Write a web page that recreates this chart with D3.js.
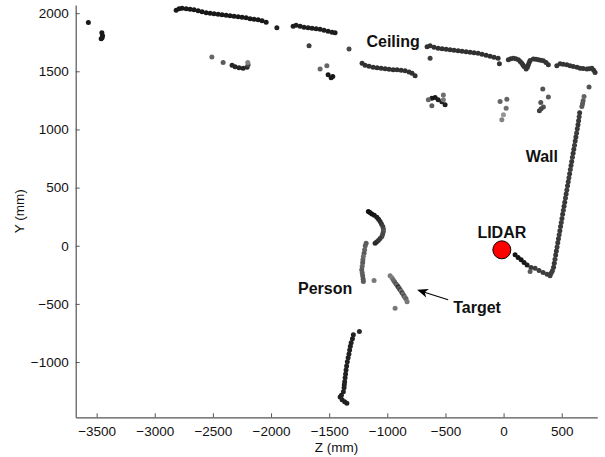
<!DOCTYPE html>
<html>
<head>
<meta charset="utf-8">
<script src="https://cdn.jsdelivr.net/npm/d3@7"></script>
<style>
  body { margin: 0; background: #fff; }
  svg { display: block; font-family: "Liberation Sans", Arial, sans-serif; }
</style>
</head>
<body>
<div id="chart"></div>
<script>
// punts del LIDAR: [Z (mm), Y (mm), intensitat 0..1]
const ceilingTop = [
  [-2816, 2024, 0.05], [-2791, 2037, 0.05], [-2765, 2042, 0.05], [-2730, 2037, 0.05],
  [-2696, 2033, 0.05], [-2662, 2029, 0.05], [-2627, 2020, 0.05], [-2593, 2011, 0.05],
  [-2558, 2003, 0.05], [-2524, 1999, 0.05], [-2490, 1994, 0.05], [-2455, 1990, 0.05],
  [-2421, 1986, 0.05], [-2386, 1981, 0.05], [-2352, 1977, 0.05], [-2318, 1973, 0.05],
  [-2283, 1969, 0.05], [-2249, 1964, 0.05], [-2214, 1960, 0.05], [-2180, 1951, 0.05],
  [-2146, 1947, 0.05], [-2111, 1943, 0.05], [-2077, 1934, 0.05], [-2042, 1921, 0.05],
  [-1950, 1874, 0.1],
  [-1810, 1887, 0.08], [-1784, 1895, 0.08], [-1750, 1887, 0.08], [-1716, 1878, 0.08],
  [-1681, 1874, 0.08], [-1647, 1870, 0.08], [-1612, 1865, 0.08], [-1578, 1861, 0.08],
  [-1544, 1852, 0.08], [-1509, 1844, 0.08], [-1475, 1835, 0.08], [-1449, 1831, 0.08]
];

const ceilingRight = [
  [-658, 1710, 0.18], [-632, 1719, 0.18], [-598, 1706, 0.18], [-563, 1698, 0.18],
  [-529, 1693, 0.18], [-494, 1689, 0.18], [-460, 1685, 0.18], [-426, 1680, 0.18],
  [-391, 1676, 0.18], [-357, 1672, 0.18], [-322, 1667, 0.18], [-288, 1663, 0.18],
  [-254, 1659, 0.18], [-219, 1655, 0.18], [-185, 1646, 0.18], [-150, 1637, 0.18],
  [-116, 1629, 0.18], [-82, 1620, 0.18], [-47, 1612, 0.18],
  [41, 1599, 0.2], [62, 1608, 0.2], [84, 1613, 0.2], [105, 1608, 0.2], [127, 1599, 0.2],
  [143, 1585, 0.2], [157, 1570, 0.2], [167, 1555, 0.2], [176, 1541, 0.2], [194, 1519, 0.2],
  [205, 1535, 0.2], [213, 1556, 0.2], [220, 1575, 0.2], [228, 1593, 0.2], [256, 1605, 0.2],
  [278, 1603, 0.2], [299, 1599, 0.2], [320, 1595, 0.2], [342, 1590, 0.2], [365, 1575, 0.2],
  [385, 1556, 0.2],
  [458, 1547, 0.2], [486, 1564, 0.2], [512, 1560, 0.2], [544, 1556, 0.2], [572, 1547, 0.2],
  [600, 1541, 0.2], [632, 1534, 0.2], [658, 1527, 0.2], [684, 1523, 0.2], [716, 1519, 0.2],
  [735, 1521, 0.2], [759, 1527, 0.2], [775, 1510, 0.2], [787, 1489, 0.2]
];

const ceilingLow = [
  [-1217, 1569, 0.18], [-1191, 1551, 0.18], [-1157, 1543, 0.18], [-1122, 1534, 0.18],
  [-1088, 1530, 0.18], [-1053, 1526, 0.18], [-1019, 1521, 0.18], [-985, 1517, 0.18],
  [-950, 1513, 0.18], [-916, 1513, 0.18], [-881, 1508, 0.18], [-847, 1504, 0.18],
  [-813, 1495, 0.18], [-787, 1483, 0.18], [-761, 1461, 0.18],
  [-2335, 1551, 0.12], [-2309, 1538, 0.12], [-2275, 1530, 0.12], [-2240, 1526, 0.12],
  [-2206, 1534, 0.15], [-2197, 1556, 0.3], [-2200, 1575, 0.6]
];

const wall = [
  [654, 1143, 0.22], [650, 1110, 0.25], [645, 1075, 0.22], [640, 1040, 0.2], [634, 1005, 0.22],
  [628, 970, 0.25], [622, 935, 0.22], [616, 900, 0.22], [610, 865, 0.25], [604, 830, 0.22],
  [598, 795, 0.22], [592, 760, 0.25], [586, 725, 0.22], [580, 690, 0.22], [574, 655, 0.25],
  [568, 620, 0.22], [562, 585, 0.25], [556, 550, 0.22], [550, 515, 0.22], [544, 480, 0.25],
  [538, 445, 0.22], [532, 410, 0.25], [526, 375, 0.22], [520, 340, 0.22], [514, 305, 0.25],
  [508, 270, 0.22], [502, 235, 0.22], [496, 200, 0.25], [490, 165, 0.22], [484, 130, 0.22],
  [478, 95, 0.25], [472, 60, 0.22], [466, 25, 0.22], [460, -10, 0.25], [454, -45, 0.22],
  [448, -80, 0.22], [442, -115, 0.25], [436, -150, 0.22], [430, -185, 0.22], [420, -215, 0.25],
  [410, -235, 0.25], [400, -259, 0.25],
  [692, 1283, 0.45], [684, 1246, 0.4], [679, 1220, 0.4], [673, 1197, 0.4], [735, 1364, 0.35]
];

const lidarTrail = [
  [99, -78, 0.03], [125, -100, 0.03], [151, -121, 0.03], [176, -143, 0.05], [202, -165, 0.08],
  [236, -186, 0.22], [271, -194, 0.25], [305, -212, 0.25], [340, -229, 0.25], [374, -246, 0.25],
  [228, -222, 0.4]
];

const person = [
  [-1163, 294, 0.02], [-1150, 285, 0.02], [-1133, 274, 0.03], [-1112, 262, 0.05],
  [-1090, 246, 0.08], [-1075, 228, 0.1], [-1062, 208, 0.15], [-1050, 188, 0.2],
  [-1039, 165, 0.25], [-1034, 143, 0.3], [-1034, 122, 0.35], [-1040, 100, 0.3],
  [-1047, 79, 0.3], [-1062, 62, 0.25], [-1077, 45, 0.2], [-1092, 33, 0.2], [-1105, 22, 0.15],
  [-1182, 22, 0.4], [-1190, 0, 0.42], [-1195, -35, 0.45], [-1200, -64, 0.4], [-1206, -93, 0.5],
  [-1210, -120, 0.45], [-1212, -147, 0.4], [-1216, -177, 0.45], [-1220, -207, 0.4],
  [-1216, -233, 0.42], [-1212, -259, 0.4], [-1208, -285, 0.38], [-1206, -308, 0.4],
  [-1114, -299, 0.55],
  [-1240, -738, 0.15], [-1292, -766, 0.1], [-1300, -800, 0.1], [-1311, -835, 0.1],
  [-1318, -865, 0.1], [-1324, -896, 0.1], [-1330, -930, 0.1], [-1337, -964, 0.1],
  [-1344, -998, 0.1], [-1350, -1033, 0.1], [-1355, -1068, 0.1], [-1359, -1102, 0.1],
  [-1363, -1136, 0.1], [-1367, -1170, 0.1], [-1370, -1196, 0.1], [-1372, -1222, 0.1],
  [-1378, -1256, 0.1], [-1395, -1285, 0.1], [-1406, -1300, 0.1], [-1389, -1325, 0.1],
  [-1367, -1342, 0.1], [-1348, -1354, 0.1]
];

const target = [
  [-976, -259, 0.55], [-960, -275, 0.6], [-950, -293, 0.5], [-938, -310, 0.45],
  [-925, -328, 0.35], [-915, -340, 0.5], [-907, -353, 0.2], [-898, -366, 0.4],
  [-890, -379, 0.3], [-880, -392, 0.55], [-873, -405, 0.3], [-864, -418, 0.5],
  [-856, -431, 0.35], [-848, -444, 0.55], [-839, -456, 0.45], [-830, -482, 0.55],
  [-933, -537, 0.55]
];

const strays = [
  [-3571, 1920, 0.05], [-3455, 1831, 0.05], [-3449, 1805, 0.05], [-3461, 1779, 0.05], [-3453, 1788, 0.05],
  [-1673, 1719, 0.25], [-1329, 1691, 0.3], [-2509, 1622, 0.45], [-2412, 1575, 0.4],
  [-1578, 1519, 0.45], [-1520, 1547, 0.45], [-1509, 1470, 0.05], [-1469, 1455, 0.05], [-1483, 1444, 0.05],
  [-632, 1613, 0.25], [-36, 1564, 0.2],
  [-617, 1269, 0.05], [-589, 1274, 0.05], [-563, 1255, 0.08], [-531, 1238, 0.1], [-503, 1212, 0.1],
  [-647, 1255, 0.45], [-617, 1203, 0.4], [-518, 1297, 0.5], [-518, 1255, 0.55],
  [-30, 1240, 0.45], [28, 1260, 0.45], [22, 1183, 0.5], [-1, 1126, 0.7], [-15, 1083, 0.6],
  [337, 1347, 0.35], [385, 1278, 0.4], [320, 1232, 0.35], [342, 1192, 0.35], [308, 1160, 0.25], [323, 1177, 0.3]
];

const lidar = [-15, -35];

const xTicks = [-3500, -3000, -2500, -2000, -1500, -1000, -500, 0, 500];
const yTicks = [-1000, -500, 0, 500, 1000, 1500, 2000];

// mides
const W = 605, H = 457;
const plot = { left: 75.7, right: 597.3, top: 5, bottom: 417.3 };

const svg = d3.select("#chart")
  .append("svg")
    .attr("width", W)
    .attr("height", H);

const x = d3.scaleLinear().domain([-3680, 806]).range([plot.left, plot.right]);
const y = d3.scaleLinear().domain([-1475, 2070]).range([plot.bottom, plot.top]);
const gris = d3.scaleLinear().domain([0, 1]).range(["#0e0e0e", "#cfcfcf"]);

// eix X
const gx = svg.append("g")
  .attr("transform", `translate(0,${plot.bottom})`)
  .call(d3.axisBottom(x).tickValues(xTicks).tickFormat(d3.format("d"))
    .tickSizeInner(-4).tickSizeOuter(0).tickPadding(9));

// eix Y
const gy = svg.append("g")
  .attr("transform", `translate(${plot.left},0)`)
  .call(d3.axisLeft(y).tickValues(yTicks).tickFormat(d3.format("d"))
    .tickSizeInner(-4).tickSizeOuter(0).tickPadding(7));

[gx, gy].forEach(g => {
  g.select(".domain").attr("stroke", "#555").attr("stroke-width", 1.2);
  g.selectAll(".tick line").attr("stroke", "#555");
  g.selectAll("text").style("font-size", "13.5px").attr("fill", "#111")
    .style("font-family", "'Liberation Sans', Arial, sans-serif");
});

// punts
const tots = [].concat(ceilingTop, ceilingRight, ceilingLow, wall, lidarTrail, person, target, strays);
svg.append("g").selectAll("circle")
  .data(tots)
  .enter()
  .append("circle")
    .attr("cx", d => x(d[0]))
    .attr("cy", d => y(d[1]))
    .attr("r", 2.5)
    .attr("fill", d => gris(d[2]));

// LIDAR
svg.append("circle")
  .attr("cx", x(lidar[0]))
  .attr("cy", y(lidar[1]))
  .attr("r", 9)
  .attr("fill", "#ff0000")
  .attr("stroke", "#000")
  .attr("stroke-width", 1);

// etiquetes
const etiquetes = [
  { t: "Ceiling", z: -950, y: 1758 },
  { t: "Wall", z: 329, y: 773 },
  { t: "LIDAR", z: -15, y: 120 },
  { t: "Person", z: -1535, y: -365 },
  { t: "Target", z: -228, y: -525 }
];
svg.selectAll(".etiq")
  .data(etiquetes)
  .enter()
  .append("text")
    .attr("class", "etiq")
    .attr("x", d => x(d.z))
    .attr("y", d => y(d.y))
    .attr("dy", "0.36em")
    .attr("text-anchor", "middle")
    .style("font-size", "16px")
    .style("font-weight", "bold")
    .attr("fill", "#111")
    .text(d => d.t);

// fletxa cap al Target
const cua = [-477, -465], cap = [-744, -379];
const x1 = x(cua[0]), y1 = y(cua[1]), x2 = x(cap[0]), y2 = y(cap[1]);
const ang = Math.atan2(y2 - y1, x2 - x1);
svg.append("line")
  .attr("x1", x1).attr("y1", y1)
  .attr("x2", x2 - 6 * Math.cos(ang)).attr("y2", y2 - 6 * Math.sin(ang))
  .attr("stroke", "#000").attr("stroke-width", 1.1);
svg.append("path")
  .attr("d", "M0,0 L-11,-4.5 L-8,0 L-11,4.5 Z")
  .attr("transform", `translate(${x2},${y2}) rotate(${ang * 180 / Math.PI})`)
  .attr("fill", "#000");

// titols dels eixos
svg.append("text")
  .attr("x", (plot.left + plot.right) / 2)
  .attr("y", 452)
  .attr("text-anchor", "middle")
  .style("font-size", "13.5px")
  .attr("fill", "#111")
  .text("Z (mm)");

svg.append("text")
  .attr("transform", "rotate(-90)")
  .attr("x", -(plot.top + plot.bottom) / 2)
  .attr("y", 24)
  .attr("text-anchor", "middle")
  .style("font-size", "13.5px")
  .attr("fill", "#111")
  .text("Y (mm)");
</script>
</body>
</html>
